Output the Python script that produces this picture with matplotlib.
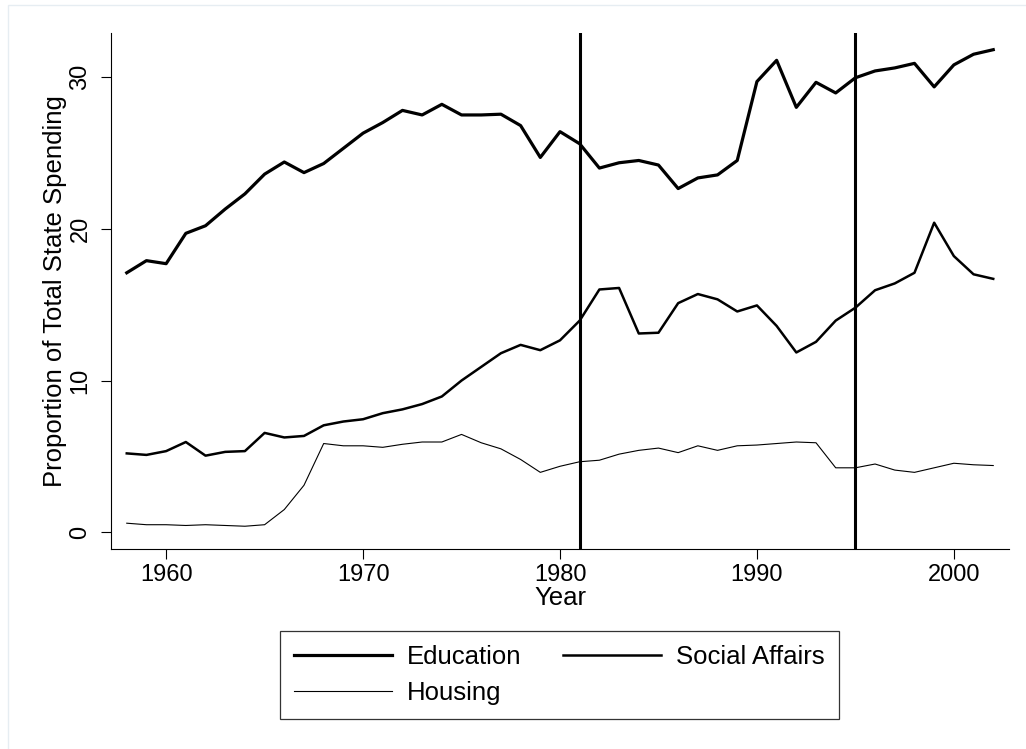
import matplotlib
matplotlib.use("Agg")
import matplotlib.pyplot as plt
from matplotlib.patches import Rectangle

plt.rcParams['font.family'] = ['Liberation Sans', 'DejaVu Sans']

# data
years = list(range(1958, 2003))
education = [
    17.1, 17.9, 17.7, 19.7, 20.2, 21.3, 22.3, 23.6, 24.4, 23.7,
    24.3, 25.3, 26.3, 27.0, 27.8, 27.5, 28.2, 27.5, 27.5, 27.55,
    26.8, 24.7, 26.4, 25.6, 24.0, 24.35, 24.5, 24.2, 22.65, 23.35,
    23.55, 24.5, 29.7, 31.1, 28.0, 29.65, 28.95, 29.95, 30.4, 30.6,
    30.9, 29.35, 30.8, 31.5, 31.8,
]
social_affairs = [
    5.2, 5.1, 5.35, 5.95, 5.05, 5.3, 5.35, 6.55, 6.25, 6.35,
    7.05, 7.3, 7.45, 7.85, 8.1, 8.45, 8.95, 10.0, 10.9, 11.8,
    12.35, 12.0, 12.65, 13.95, 16.0, 16.1, 13.1, 13.15, 15.1, 15.7,
    15.35, 14.55, 14.95, 13.6, 11.85, 12.55, 13.95, 14.8, 15.95, 16.4,
    17.1, 20.4, 18.2, 17.0, 16.7,
]
housing = [
    0.6, 0.5, 0.5, 0.45, 0.5, 0.45, 0.4, 0.5, 1.5, 3.1,
    5.85, 5.7, 5.7, 5.6, 5.8, 5.95, 5.95, 6.45, 5.9, 5.5,
    4.8, 3.95, 4.35, 4.65, 4.75, 5.15, 5.4, 5.55, 5.25, 5.7,
    5.4, 5.7, 5.75, 5.85, 5.95, 5.9, 4.25, 4.25, 4.5, 4.1,
    3.95, 4.25, 4.55, 4.45, 4.4,
]
breaks = [1981, 1995]

fig = plt.figure(figsize=(10.26, 7.49), dpi=100)
ax = fig.add_axes([111 / 1026, 1 - 549 / 749, 898 / 1026, 516 / 749])

# faint outer frame
fig.patches.append(Rectangle((8 / 1026, -0.1), 1.2, 1 - 5 / 749 + 0.1,
                             transform=fig.transFigure, fill=False,
                             edgecolor='#e6edf2', linewidth=1))

l1, = ax.plot(years, education, color='black', linewidth=2.3, label='Education')
l2, = ax.plot(years, social_affairs, color='black', linewidth=1.8, label='Social Affairs')
l3, = ax.plot(years, housing, color='black', linewidth=0.8, label='Housing')
for b in breaks:
    ax.axvline(b, color='black', linewidth=2.2)

ax.set_xlim(1957.2, 2002.8)
ax.set_ylim(-1.1, 32.9)
ax.set_xticks([1960, 1970, 1980, 1990, 2000])
ax.set_yticks([0, 10, 20, 30])
ax.spines['top'].set_visible(False)
ax.spines['right'].set_visible(False)
ax.tick_params(axis='both', labelsize=17, length=7, width=0.8)
ax.tick_params(axis='x', pad=4)
ax.tick_params(axis='y', pad=7)
for lab in ax.get_yticklabels():
    lab.set_rotation(90)
    lab.set_va('center')
ax.set_xlabel('Year', fontsize=18.5, labelpad=0)
ax.set_ylabel('Proportion of Total State Spending', fontsize=18.5, labelpad=2)

leg = fig.legend([l1, l3, l2], ['Education', 'Housing', 'Social Affairs'],
                 ncol=2, loc='center',
                 bbox_to_anchor=(280 / 1026, 32 / 749, 559 / 1026, 84 / 749),
                 mode='expand', borderaxespad=0, fancybox=False, edgecolor='black',
                 fontsize=18.5, handlelength=3.8, handletextpad=0.6,
                 columnspacing=1.4, borderpad=0.55, labelspacing=0.45)
leg.get_frame().set_linewidth(0.9)

fig.savefig('out.png', dpi=100)
